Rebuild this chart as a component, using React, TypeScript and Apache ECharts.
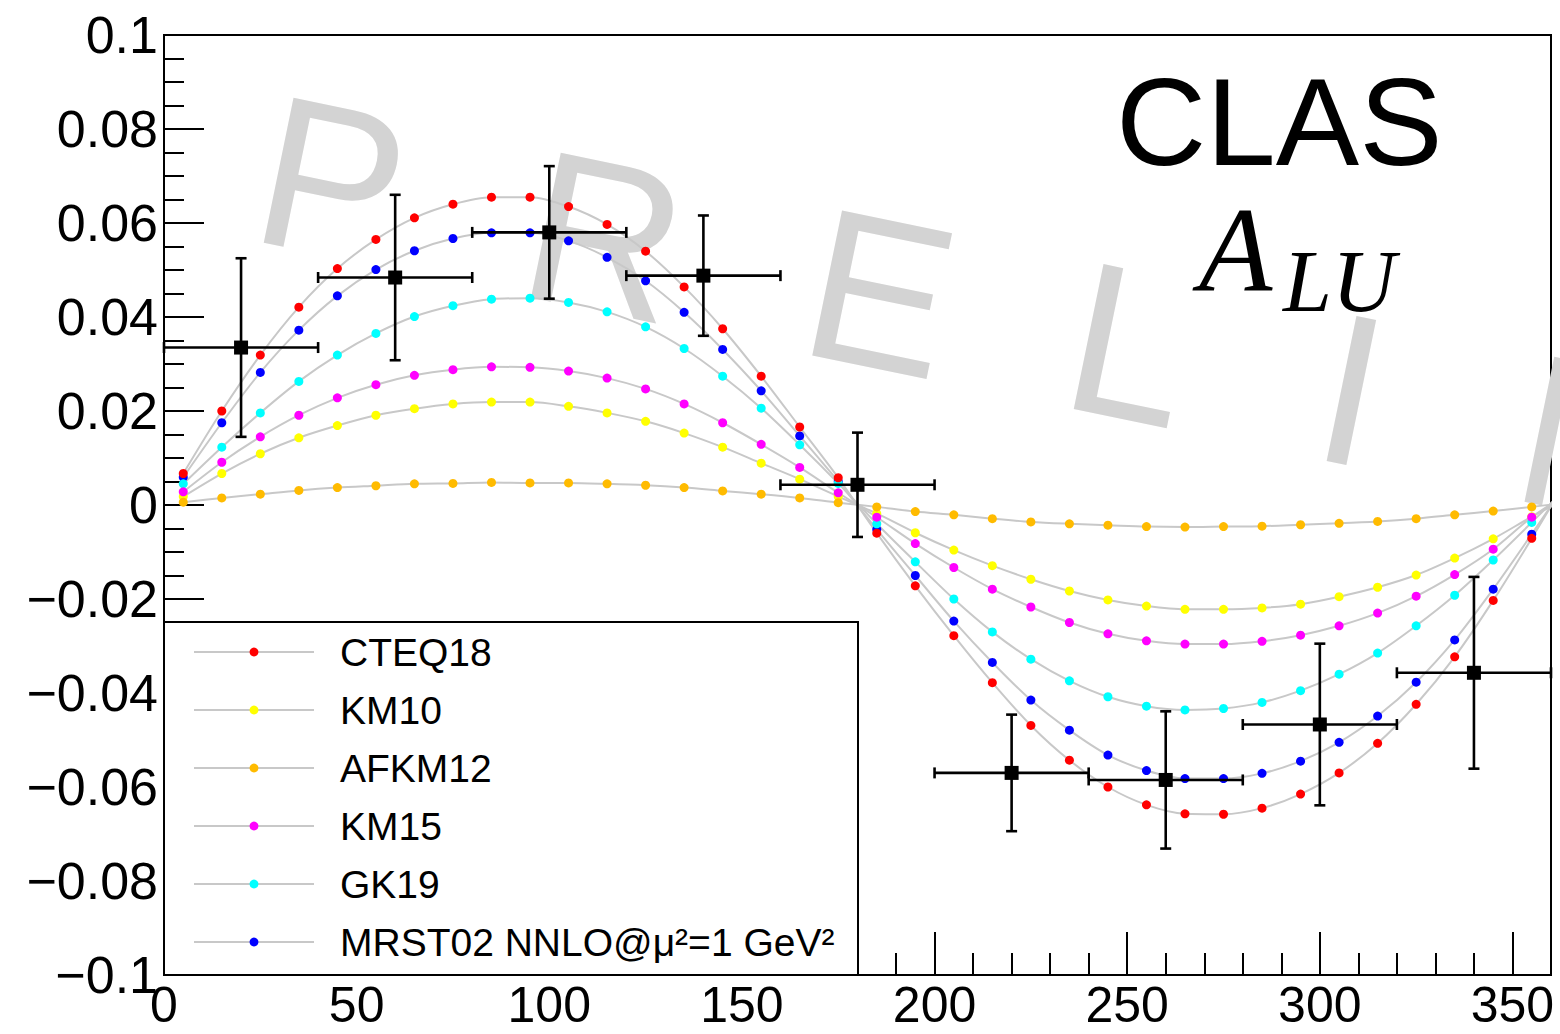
import React, { useEffect, useRef } from 'react';
import * as echarts from 'echarts';

const FONT = '"Liberation Sans", Arial, Helvetica, sans-serif';
const SERIF = '"Liberation Serif", "Times New Roman", serif';

// model phi values (deg)
const phiModel = [5, 15, 25, 35, 45, 55, 65, 75, 85, 95, 105, 115, 125, 135, 145, 155, 165, 175,
  185, 195, 205, 215, 225, 235, 245, 255, 265, 275, 285, 295, 305, 315, 325, 335, 345, 355];

const cteq18 = [0.0067, 0.0200, 0.0319, 0.0421, 0.0503, 0.0565, 0.0611, 0.0640, 0.0655, 0.0655, 0.0635, 0.0597, 0.0540, 0.0464, 0.0375, 0.0274, 0.0166, 0.0058,
  -0.0060, -0.0172, -0.0278, -0.0378, -0.0469, -0.0543, -0.0600, -0.0638, -0.0657, -0.0658, -0.0645, -0.0615, -0.0570, -0.0507, -0.0424, -0.0323, -0.0203, -0.0071];
const km10 = [0.0018, 0.0067, 0.0109, 0.0143, 0.0169, 0.0191, 0.0205, 0.0215, 0.0219, 0.0219, 0.0210, 0.0196, 0.0178, 0.0153, 0.0123, 0.0089, 0.0055, 0.0018,
  -0.0018, -0.0059, -0.0096, -0.0129, -0.0158, -0.0183, -0.0202, -0.0215, -0.0222, -0.0222, -0.0219, -0.0211, -0.0195, -0.0175, -0.0149, -0.0113, -0.0072, -0.0025];
const afkm12 = [0.0006, 0.0015, 0.0023, 0.0031, 0.0037, 0.0041, 0.0045, 0.0046, 0.0048, 0.0047, 0.0047, 0.0045, 0.0042, 0.0037, 0.0030, 0.0023, 0.0015, 0.0005,
  -0.0004, -0.0014, -0.0021, -0.0029, -0.0036, -0.0040, -0.0043, -0.0046, -0.0047, -0.0046, -0.0045, -0.0042, -0.0039, -0.0035, -0.0029, -0.0021, -0.0013, -0.0004];
const km15 = [0.0028, 0.0091, 0.0145, 0.0191, 0.0228, 0.0256, 0.0276, 0.0288, 0.0294, 0.0293, 0.0285, 0.0270, 0.0247, 0.0215, 0.0175, 0.0129, 0.0080, 0.0026,
  -0.0026, -0.0082, -0.0133, -0.0179, -0.0217, -0.0250, -0.0274, -0.0289, -0.0296, -0.0296, -0.0290, -0.0277, -0.0257, -0.0230, -0.0194, -0.0148, -0.0094, -0.0026];
const gk19 = [0.0045, 0.0123, 0.0196, 0.0263, 0.0319, 0.0365, 0.0401, 0.0424, 0.0438, 0.0440, 0.0431, 0.0411, 0.0379, 0.0333, 0.0274, 0.0206, 0.0128, 0.0046,
  -0.0040, -0.0121, -0.0200, -0.0270, -0.0328, -0.0374, -0.0408, -0.0428, -0.0436, -0.0433, -0.0420, -0.0395, -0.0360, -0.0315, -0.0257, -0.0192, -0.0117, -0.0037];
const mrst02 = [0.0059, 0.0175, 0.0282, 0.0372, 0.0445, 0.0501, 0.0541, 0.0567, 0.0579, 0.0579, 0.0562, 0.0527, 0.0477, 0.0410, 0.0331, 0.0243, 0.0147, 0.0050,
  -0.0052, -0.0150, -0.0247, -0.0335, -0.0415, -0.0479, -0.0532, -0.0565, -0.0582, -0.0582, -0.0571, -0.0545, -0.0505, -0.0449, -0.0377, -0.0287, -0.0179, -0.0062];

// CLAS data
const phiData = [20, 60, 100, 140, 180, 220, 260, 300, 340];
const phiHalfWidth = [20, 20, 20, 20, 20, 20, 20, 20, 20];
const aluData = [0.0335, 0.0484, 0.0580, 0.0488, 0.0043, -0.0570, -0.0585, -0.0467, -0.0357];
const aluErr = [0.0190, 0.0176, 0.0141, 0.0128, 0.0111, 0.0124, 0.0146, 0.0172, 0.0204];

const legendOrder = ['CTEQ18', 'KM10', 'AFKM12', 'KM15', 'GK19', 'MRST02 NNLO@\u03bc\u00b2=1 GeV\u00b2'];

// drawing order (first drawn is lowest)
const models = [
  { name: 'MRST02 NNLO@\u03bc\u00b2=1 GeV\u00b2', color: '#0000ff', values: mrst02 },
  { name: 'KM10', color: '#ffff00', values: km10 },
  { name: 'GK19', color: '#00ffff', values: gk19 },
  { name: 'KM15', color: '#ff00ff', values: km15 },
  { name: 'AFKM12', color: '#ffbb00', values: afkm12 },
  { name: 'CTEQ18', color: '#ff0000', values: cteq18 },
];

const watermarkLetters = ['P', 'R', 'E', 'L', 'I', 'M'];
const watermarkOffsets = [0, 273, 560, 827, 1083, 1287];

const fmtY = (v: number) => {
  if (Math.abs(v) < 1e-9) return '0';
  const s = Number(v.toFixed(3)).toString();
  return s.replace('-', '\u2212');
};

export default function App() {
  const ref = useRef<HTMLDivElement>(null);

  useEffect(() => {
    if (!ref.current) return;
    const chart = echarts.init(ref.current, undefined, { renderer: 'svg' });

    const lineSeries = models.map((m) => ({
      name: m.name,
      type: 'line',
      data: phiModel.map((p, i) => [p, m.values[i]]).concat([[phiModel[0] + 360, m.values[0]]]),
      smooth: 0.3,
      symbol: 'circle',
      symbolSize: 9,
      showSymbol: true,
      showAllSymbol: true,
      clip: true,
      lineStyle: { color: '#c8c8c8', width: 2 },
      itemStyle: { color: m.color, opacity: 1 },
      emphasis: { disabled: true },
      z: 2,
    }));

    const errData = phiData.map((p, i) => [p, aluData[i], phiHalfWidth[i], aluErr[i]]);

    const option: any = {
      animation: false,
      grid: {
        left: 164, top: 35, width: 1387, height: 940,
        show: true, borderColor: '#000', borderWidth: 2, backgroundColor: 'transparent',
        containLabel: false, outerBoundsMode: 'none',
      },
      xAxis: [
        {
          type: 'value', min: 0, max: 360, interval: 50, position: 'bottom',
          axisLine: { onZero: false, lineStyle: { color: '#000', width: 2 } },
          axisTick: { inside: true, length: 43, lineStyle: { color: '#000', width: 2 } },
          axisLabel: { margin: 8, fontSize: 50, lineHeight: 44, fontFamily: FONT, color: '#000', showMaxLabel: false },
          splitLine: { show: false },
        },
        {
          type: 'value', min: 0, max: 360, interval: 10, position: 'bottom',
          axisLine: { show: false, onZero: false },
          axisTick: { inside: true, length: 22, lineStyle: { color: '#000', width: 2 } },
          axisLabel: { show: false },
          splitLine: { show: false },
        },
      ],
      yAxis: {
        type: 'value', min: -0.1, max: 0.1, interval: 0.02,
        axisLine: { onZero: false, lineStyle: { color: '#000', width: 2 } },
        axisTick: { inside: true, length: 40, lineStyle: { color: '#000', width: 2 } },
        minorTick: { show: true, splitNumber: 4, length: 20, lineStyle: { color: '#000', width: 2 } },
        axisLabel: { formatter: fmtY, margin: 6, fontSize: 52, lineHeight: 52, fontFamily: FONT, color: '#000' },
        splitLine: { show: false },
        minorSplitLine: { show: false },
      },
      legend: {
        data: legendOrder,
        orient: 'vertical',
        left: 193, top: 632,
        padding: 0,
        itemWidth: 120, itemHeight: 11, itemGap: 18,
        selectedMode: false,
        textStyle: { fontSize: 39, lineHeight: 40, fontFamily: FONT, color: '#000', padding: [0, 0, 0, 21] },
        z: 10,
      },
      graphic: [
        {
          type: 'group', x: 262, y: 243, rotation: -0.2025, silent: true, z: 0,
          children: watermarkLetters.map((ch, i) => ({
            type: 'text', x: watermarkOffsets[i] - 16, y: -75, z: 0,
            style: { text: ch, font: `215px ${FONT}`, fill: '#d3d3d3', align: 'left', verticalAlign: 'middle' },
          })),
        },
        {
          type: 'rect', z: 3, silent: true,
          shape: { x: 164, y: 622, width: 694, height: 353 },
          style: { fill: '#ffffff', stroke: '#000', lineWidth: 2 },
        },
        {
          type: 'text', x: 1116, y: 121, z: 5, silent: true,
          style: { text: 'CLAS', font: `125px ${FONT}`, fill: '#000', align: 'left', verticalAlign: 'middle' },
        },
        {
          type: 'text', x: 1199, y: 250, z: 5, silent: true,
          style: { text: 'A', font: `italic 120px ${SERIF}`, fill: '#000', align: 'left', verticalAlign: 'middle' },
        },
        {
          type: 'text', x: 1283, y: 281, z: 5, silent: true,
          style: { text: 'LU', font: `italic 88px ${SERIF}`, fill: '#000', align: 'left', verticalAlign: 'middle' },
        },
      ],
      series: [
        ...lineSeries,
        {
          name: 'CLAS errors',
          type: 'custom',
          data: errData,
          encode: { x: 0, y: 1 },
          z: 6,
          silent: true,
          renderItem: (params: any, api: any) => {
            const x = api.value(0), y = api.value(1), ex = api.value(2), ey = api.value(3);
            const l = api.coord([x - ex, y]);
            const r = api.coord([x + ex, y]);
            const t = api.coord([x, y + ey]);
            const b = api.coord([x, y - ey]);
            const cap = 5.5;
            const style = { stroke: '#000', lineWidth: 2.6 };
            return {
              type: 'group',
              children: [
                { type: 'line', shape: { x1: l[0], y1: l[1], x2: r[0], y2: r[1] }, style },
                { type: 'line', shape: { x1: t[0], y1: t[1], x2: b[0], y2: b[1] }, style },
                { type: 'line', shape: { x1: t[0] - cap, y1: t[1], x2: t[0] + cap, y2: t[1] }, style },
                { type: 'line', shape: { x1: b[0] - cap, y1: b[1], x2: b[0] + cap, y2: b[1] }, style },
                { type: 'line', shape: { x1: l[0], y1: l[1] - cap, x2: l[0], y2: l[1] + cap }, style },
                { type: 'line', shape: { x1: r[0], y1: r[1] - cap, x2: r[0], y2: r[1] + cap }, style },
              ],
            };
          },
        },
        {
          name: 'CLAS',
          type: 'scatter',
          data: phiData.map((p, i) => [p, aluData[i]]),
          symbol: 'rect',
          symbolSize: 14,
          itemStyle: { color: '#000', opacity: 1 },
          z: 7,
          silent: true,
        },
      ],
    };

    chart.setOption(option);
    return () => chart.dispose();
  }, []);

  return (
    <div
      ref={ref}
      style={{ position: 'absolute', left: 0, top: 0, width: 1560, height: 1034, background: '#fff' }}
    />
  );
}
